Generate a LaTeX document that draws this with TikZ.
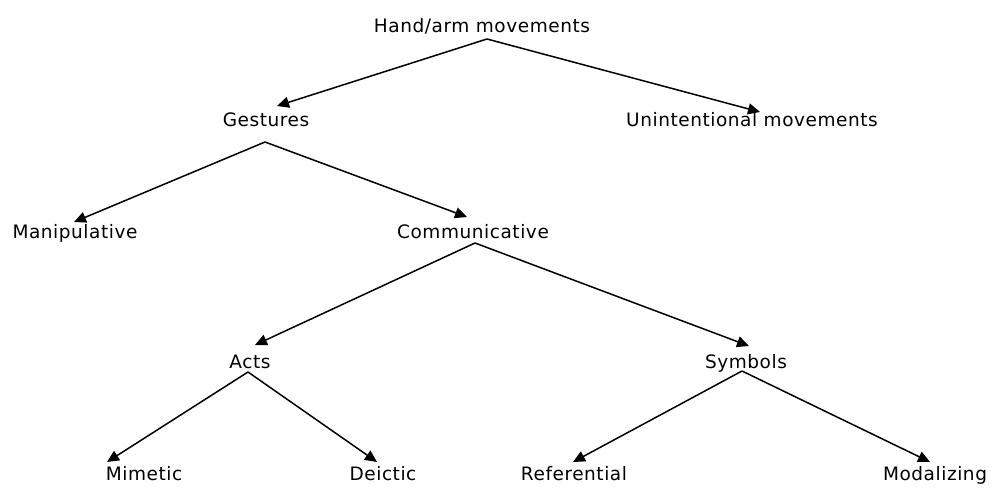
\documentclass[tikz,border=0pt]{standalone}
\usepackage{fontspec}
\setmainfont{DejaVu Sans}[LetterSpace=3]
\usetikzlibrary{arrows.meta}
\begin{document}
\begin{tikzpicture}[x=1pt,y=-1pt,
  lbl/.style={anchor=base,inner sep=0pt,font=\fontsize{18.5}{20}\selectfont},
  conn/.style={line width=1.5pt,-{Triangle[length=12pt,width=11pt]}}]
\useasboundingbox (0,0) rectangle (995,490);
% labels
\node[lbl] (hand) at (482,32) {Hand/arm movements};
\node[lbl] (ges) at (266,126) {Gestures};
\node[lbl] (unint) at (752,126) {Unintentional movements};
\node[lbl] (manip) at (75,238) {Manipulative};
\node[lbl] (comm) at (473,238) {Communicative};
\node[lbl] (acts) at (250,368) {Acts};
\node[lbl] (sym) at (746,368) {Symbols};
\node[lbl] (mim) at (144,480) {Mimetic};
\node[lbl] (dei) at (383,480) {Deictic};
\node[lbl] (ref) at (574,480) {Referential};
\node[lbl] (mod) at (935,480) {Modalizing};
% connector ends
\coordinate (handB) at (487,39);
\coordinate (gesB) at (265,142);
\coordinate (commB) at (475,243);
\coordinate (actsB) at (248,372);
\coordinate (symB) at (742,371);
\coordinate (gesT) at (277,106);
\coordinate (unintT) at (760,112);
\coordinate (manipT) at (74,222);
\coordinate (commT) at (467,217);
\coordinate (actsT) at (255,345);
\coordinate (symT) at (749,346);
\coordinate (mimT) at (107,462);
\coordinate (deiT) at (377,462);
\coordinate (refT) at (573,462);
\coordinate (modT) at (930,462);
% connectors
\draw[conn] (handB) -- (gesT);
\draw[conn] (handB) -- (unintT);
\draw[conn] (gesB) -- (manipT);
\draw[conn] (gesB) -- (commT);
\draw[conn] (commB) -- (actsT);
\draw[conn] (commB) -- (symT);
\draw[conn] (actsB) -- (mimT);
\draw[conn] (actsB) -- (deiT);
\draw[conn] (symB) -- (refT);
\draw[conn] (symB) -- (modT);
\end{tikzpicture}
\end{document}
